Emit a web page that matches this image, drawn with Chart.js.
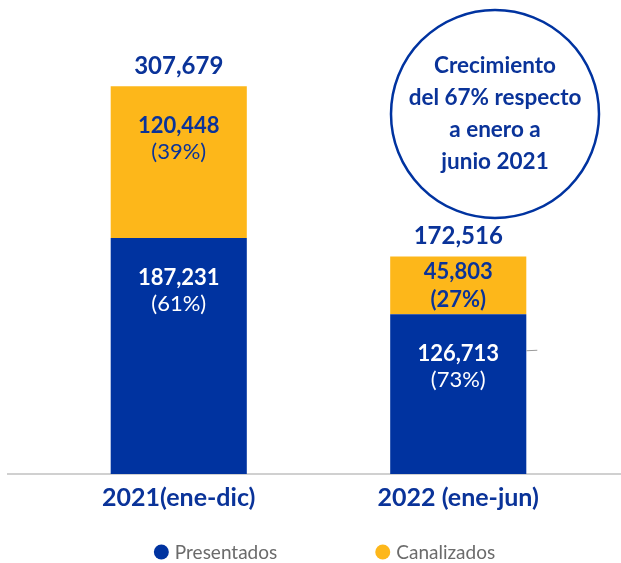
<!DOCTYPE html>
<html>
<head>
<meta charset="utf-8">
<script src="https://cdn.jsdelivr.net/npm/chart.js@4.4.0/dist/chart.umd.min.js"></script>
<style>
  html, body { margin: 0; padding: 0; background: #fff; }
  #wrap { width: 621px; height: 563px; position: relative; }
</style>
</head>
<body>
<div id="wrap"><canvas id="chart"></canvas></div>
<script>
// chart data
const categories = ['2021(ene-dic)', '2022 (ene-jun)'];
const presentados = [187231, 126713];
const canalizados = [120448, 45803];
const calloutLines = ['Crecimiento', 'del 67% respecto', 'a enero a', 'junio 2021'];

// colors
const BLUE = '#0033a0';
const YELLOW = '#fdb71a';
const TEXT_BLUE = '#0a3399';

const fmt = v => v.toLocaleString('en-US');

// totals per category
const totals = categories.map((c, i) => presentados[i] + canalizados[i]);

// draws the gray baseline under the bars
const baselinePlugin = {
  id: 'baseline',
  beforeDatasetsDraw(chart) {
    const ctx = chart.ctx;
    const y = chart.scales.y.getPixelForValue(0);
    ctx.save();
    ctx.strokeStyle = '#d0d0d0';
    ctx.lineWidth = 2;
    ctx.beginPath();
    ctx.moveTo(7, y);
    ctx.lineTo(chart.width, y);
    ctx.stroke();
    ctx.restore();
  }
};

// value labels inside segments + totals on top + callout circle
const labelsPlugin = {
  id: 'segLabels',
  afterDatasetsDraw(chart) {
    const ctx = chart.ctx;
    ctx.save();
    ctx.textAlign = 'center';
    ctx.textBaseline = 'middle';

    chart.data.datasets.forEach((ds, di) => {
      const meta = chart.getDatasetMeta(di);
      meta.data.forEach((bar, i) => {
        const value = ds.data[i];
        const pct = Math.round(value / totals[i] * 100);
        const top = bar.y;
        const h = bar.base - bar.y;
        const color = di === 0 ? '#ffffff' : TEXT_BLUE;
        let y1, y2;
        const short = h < 80;
        if (short) {
          y1 = top + h / 2 - 13;
          y2 = top + h / 2 + 15;
        } else {
          y1 = top + 40;
          y2 = top + 66;
        }
        ctx.fillStyle = color;
        ctx.font = 'bold 22px Lato';
        ctx.fillText(fmt(value), bar.x, y1);
        ctx.font = (short ? 'bold ' : '') + '22px Lato';
        ctx.fillText('(' + pct + '%)', bar.x, y2);
      });
    });

    // small gray leader stub next to the second stack
    const b = chart.getDatasetMeta(0).data[1];
    ctx.strokeStyle = '#9a9a9a';
    ctx.lineWidth = 1;
    ctx.beginPath();
    ctx.moveTo(b.x + b.width / 2, b.y + 36.5);
    ctx.lineTo(b.x + b.width / 2 + 11, b.y + 36);
    ctx.stroke();

    // totals above the stacks
    const topMeta = chart.getDatasetMeta(1);
    topMeta.data.forEach((bar, i) => {
      ctx.fillStyle = TEXT_BLUE;
      ctx.font = 'bold 24px Lato';
      ctx.fillText(fmt(totals[i]), bar.x, bar.y - 20);
    });

    // callout circle
    const cx = 495, cy = 114, r = 104;
    ctx.beginPath();
    ctx.arc(cx, cy, r, 0, Math.PI * 2);
    ctx.strokeStyle = BLUE;
    ctx.lineWidth = 2.5;
    ctx.stroke();
    ctx.fillStyle = TEXT_BLUE;
    ctx.font = 'bold 22.5px Lato';
    calloutLines.forEach((line, k) => {
      ctx.fillText(line, cx, 66 + k * 32);
    });
    ctx.restore();
  }
};

// legend drawn at the bottom, wide gap between items
const legendPlugin = {
  id: 'bottomLegend',
  afterDraw(chart) {
    const ctx = chart.ctx;
    const ds = chart.data.datasets;
    const r = 7.5, gap = 6, spacing = 98, y = 552;
    const area = chart.chartArea;
    ctx.save();
    ctx.font = '19px Lato';
    ctx.textBaseline = 'middle';
    ctx.textAlign = 'left';
    const widths = ds.map(d => 2 * r + gap + ctx.measureText(d.label).width);
    const total = widths.reduce((a, b) => a + b, 0) + spacing * (ds.length - 1);
    let x = (area.left + area.right - total) / 2 + 6;
    ds.forEach((d, i) => {
      ctx.fillStyle = d.backgroundColor;
      ctx.beginPath();
      ctx.arc(x + r, y, r, 0, Math.PI * 2);
      ctx.fill();
      ctx.fillStyle = '#6b6b6b';
      ctx.fillText(d.label, x + 2 * r + gap, y + 1);
      x += widths[i] + spacing;
    });
    ctx.restore();
  }
};

const ctx = document.getElementById('chart').getContext('2d');
new Chart(ctx, {
  type: 'bar',
  data: {
    labels: categories,
    datasets: [
      { label: 'Presentados', data: presentados, backgroundColor: BLUE, borderWidth: 0 },
      { label: 'Canalizados', data: canalizados, backgroundColor: YELLOW, borderWidth: 0 }
    ]
  },
  options: {
    responsive: true,
    maintainAspectRatio: false,
    animation: false,
    barPercentage: 0.487,
    categoryPercentage: 1.0,
    layout: { padding: 0 },
    plugins: {
      legend: { display: false },
      tooltip: { enabled: false }
    },
    scales: {
      x: {
        stacked: true,
        grid: { display: false },
        border: { display: false },
        ticks: {
          color: TEXT_BLUE,
          padding: 1,
          font: { family: 'Lato', size: 25, weight: 'bold' }
        },
        afterFit: s => { s.height = 89; }
      },
      y: {
        stacked: true,
        min: 0,
        max: 376000,
        grid: { display: false },
        border: { display: false },
        ticks: { display: false },
        afterFit: s => { s.width = 39; }
      },
      yRight: {
        position: 'right',
        grid: { display: false },
        border: { display: false },
        ticks: { display: false },
        afterFit: s => { s.width = 23; }
      }
    }
  },
  plugins: [baselinePlugin, labelsPlugin, legendPlugin]
});
</script>
</body>
</html>
